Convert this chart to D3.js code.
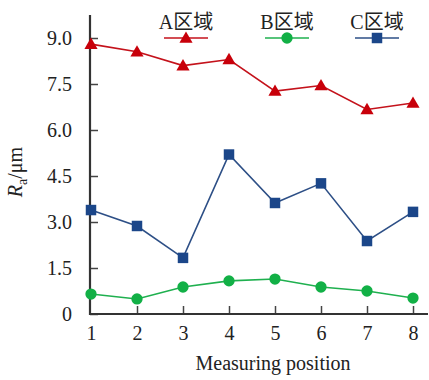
<!DOCTYPE html>
<html>
<head>
<meta charset="utf-8">
<script src="https://cdn.jsdelivr.net/npm/d3@7"></script>
<style>
  body { margin: 0; background: #fff; }
  svg { display: block; font-family: "Liberation Serif", "Times New Roman", "Noto Sans CJK SC", serif; }
</style>
</head>
<body>
<svg id="chart" width="429" height="380"></svg>
<script>
// Measuring positions and Ra values
const positions = [1, 2, 3, 4, 5, 6, 7, 8];
const areaA = [8.8, 8.55, 8.1, 8.3, 7.27, 7.45, 6.67, 6.88];
const areaB = [0.65, 0.49, 0.88, 1.08, 1.14, 0.88, 0.75, 0.52];
const areaC = [3.39, 2.87, 1.83, 5.2, 3.62, 4.26, 2.38, 3.33];
const seriesNames = ['A区域', 'B区域', 'C区域'];
const yTicks = [0, 1.5, 3.0, 4.5, 6.0, 7.5, 9.0];

let svg = d3.select('#chart');
const axisX0 = 90, axisY0 = 314;
const serif = '"Liberation Serif", "Times New Roman", serif';

let xScale = d3.scaleLinear().domain([1, 8]).range([91, 413]);
let yScale = d3.scaleLinear().domain([0, 9]).range([axisY0, 38]);

// axes (ticks point inward)
let yAxisG = svg.append('g')
    .attr('transform', `translate(${axisX0},0)`)
    .call(d3.axisLeft(yScale).tickValues(yTicks).tickSize(-8).tickPadding(18)
        .tickFormat(d => d === 0 ? '0' : d.toFixed(1)));
let xAxisG = svg.append('g')
    .attr('transform', `translate(0,${axisY0})`)
    .call(d3.axisBottom(xScale).tickValues(positions).tickSize(-8).tickPadding(12)
        .tickFormat(d3.format('d')));
[yAxisG, xAxisG].forEach(a => {
    a.attr('font-family', serif).attr('font-size', 20);
    a.select('.domain').remove();
    a.selectAll('.tick line').style('stroke', '#444').style('stroke-width', 1.5);
    a.selectAll('.tick text').style('fill', '#222');
});
xAxisG.selectAll('.tick line').filter(d => d === 1).remove();

svg.append('line').attr('x1', axisX0).attr('x2', axisX0).attr('y1', 15).attr('y2', axisY0 + 1)
    .style('stroke', '#333').style('stroke-width', 2.2);
svg.append('line').attr('x1', axisX0 - 1).attr('x2', 428).attr('y1', axisY0).attr('y2', axisY0)
    .style('stroke', '#333').style('stroke-width', 2.2);

// axis titles
let yTitle = svg.append('text')
    .attr('transform', 'translate(22,172) rotate(-90)')
    .attr('text-anchor', 'middle')
    .style('font-size', '20px').style('fill', '#222');
yTitle.append('tspan').style('font-style', 'italic').text('R');
yTitle.append('tspan').attr('dy', 5).style('font-size', '14px').text('a');
yTitle.append('tspan').attr('dy', -5).text('/μm');

svg.append('text')
    .attr('x', 273).attr('y', 370)
    .attr('text-anchor', 'middle')
    .style('font-size', '20px').style('fill', '#222')
    .text('Measuring position');

// series
const series = [
    { name: seriesNames[0], values: areaA, line: '#c4121b', fill: '#c8000a', shape: d3.symbolTriangle, size: 75 },
    { name: seriesNames[1], values: areaB, line: '#1fb04f', fill: '#12b046', shape: d3.symbolCircle, size: 100 },
    { name: seriesNames[2], values: areaC, line: '#2d4f86', fill: '#1b4689', shape: d3.symbolSquare, size: 110 }
];

let line = d3.line().x((d, i) => xScale(positions[i])).y(d => yScale(d));

series.forEach(s => {
    svg.append('path')
        .datum(s.values)
        .attr('d', line)
        .style('fill', 'none')
        .style('stroke', s.line)
        .style('stroke-width', 1.6);
    svg.selectAll(null)
        .data(s.values)
        .join('path')
        .attr('transform', (d, i) => `translate(${xScale(positions[i])},${yScale(d) + (s.shape === d3.symbolTriangle ? 1 : 0)})`)
        .attr('d', d3.symbol().type(s.shape).size(s.size))
        .style('fill', s.fill);
});

// legend
const legendX = [186, 287, 377];
series.forEach((s, i) => {
    let lg = svg.append('g').attr('transform', `translate(${legendX[i]},0)`);
    lg.append('text')
        .attr('x', 0).attr('y', 29)
        .attr('text-anchor', 'middle')
        .style('font-size', '20px').style('fill', '#222')
        .text(s.name);
    lg.append('line')
        .attr('x1', -22).attr('x2', 22).attr('y1', 38).attr('y2', 38)
        .style('stroke', s.line).style('stroke-width', 1.6);
    lg.append('path')
        .attr('transform', `translate(0,${38 + (s.shape === d3.symbolTriangle ? 1 : 0)})`)
        .attr('d', d3.symbol().type(s.shape).size(s.size))
        .style('fill', s.fill);
});
</script>
</body>
</html>
